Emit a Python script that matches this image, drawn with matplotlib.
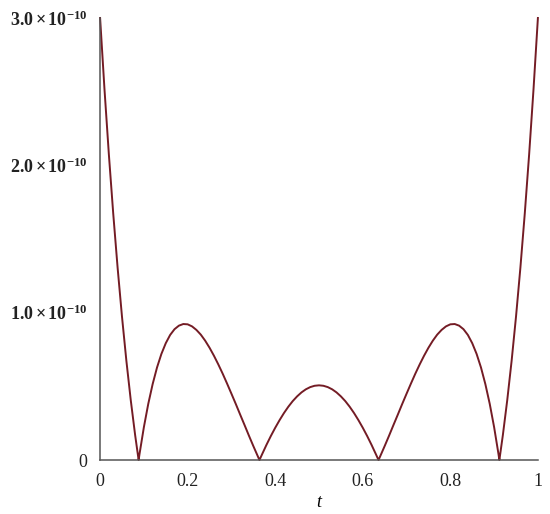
import matplotlib
matplotlib.use("Agg")
import matplotlib.pyplot as plt
import numpy as np

# Values (units of 1e-10)
t_left = [0.00, 0.01, 0.02, 0.03, 0.04, 0.05, 0.06, 0.07, 0.08, 0.088, 0.09,
          0.10, 0.11, 0.12, 0.13, 0.14, 0.15, 0.16, 0.17, 0.18, 0.19,
          0.20, 0.21, 0.22, 0.23, 0.24, 0.25, 0.26, 0.27, 0.28, 0.29,
          0.30, 0.31, 0.32, 0.33, 0.34, 0.35, 0.36, 0.364, 0.37, 0.38, 0.39,
          0.40, 0.41, 0.42, 0.43, 0.44, 0.45, 0.46, 0.47, 0.48, 0.49, 0.50]
err_left = [3.000, 2.517, 2.075, 1.672, 1.305, 0.973, 0.674, 0.407, 0.170, 0.000, 0.040,
            0.223, 0.381, 0.515, 0.628, 0.720, 0.793, 0.849, 0.888, 0.912, 0.923,
            0.921, 0.907, 0.883, 0.851, 0.810, 0.762, 0.708, 0.649, 0.586, 0.519,
            0.450, 0.380, 0.308, 0.237, 0.165, 0.095, 0.027, 0.000, 0.039, 0.103, 0.163,
            0.219, 0.271, 0.319, 0.362, 0.400, 0.432, 0.459, 0.480, 0.495, 0.504, 0.507]
t_right = [0.51, 0.52, 0.53, 0.54, 0.55, 0.56, 0.57, 0.58, 0.59, 0.60,
           0.61, 0.62, 0.63, 0.636, 0.64, 0.65, 0.66, 0.67, 0.68, 0.69, 0.70,
           0.71, 0.72, 0.73, 0.74, 0.75, 0.76, 0.77, 0.78, 0.79, 0.80,
           0.81, 0.82, 0.83, 0.84, 0.85, 0.86, 0.87, 0.88, 0.89, 0.90,
           0.91, 0.912, 0.92, 0.93, 0.94, 0.95, 0.96, 0.97, 0.98, 0.99, 1.00]
err_right = [0.504, 0.495, 0.480, 0.459, 0.432, 0.400, 0.362, 0.319, 0.271, 0.219,
             0.163, 0.103, 0.039, 0.000, 0.027, 0.095, 0.165, 0.237, 0.308, 0.380, 0.450,
             0.519, 0.586, 0.649, 0.708, 0.762, 0.810, 0.851, 0.883, 0.907, 0.921,
             0.923, 0.912, 0.888, 0.849, 0.793, 0.720, 0.628, 0.515, 0.381, 0.223,
             0.040, 0.000, 0.170, 0.407, 0.674, 0.973, 1.305, 1.672, 2.075, 2.517, 3.000]

x_ticks = [0, 0.2, 0.4, 0.6, 0.8, 1]
x_ticklabels = ["0", "0.2", "0.4", "0.6", "0.8", "1"]
y_ticks = [0, 1e-10, 2e-10, 3e-10]
y_ticklabels = ["0", r"$\mathbf{1.0\times10^{-10}}$", r"$\mathbf{2.0\times10^{-10}}$",
                r"$\mathbf{3.0\times10^{-10}}$"]

plt.rcParams["font.family"] = ["Liberation Serif", "DejaVu Serif"]
plt.rcParams["mathtext.fontset"] = "custom"
plt.rcParams["mathtext.rm"] = "Liberation Serif"
plt.rcParams["mathtext.it"] = "Liberation Serif:italic"
plt.rcParams["mathtext.bf"] = "Liberation Serif:bold"

t = np.array(t_left + t_right)
err = np.array(err_left + err_right) * 1e-10

fig = plt.figure(figsize=(5.5, 5.14), dpi=100)
ax = fig.add_axes([0.182, 0.105, 0.796, 0.860])
ax.plot(t, err, color="#741C25", lw=1.4, clip_on=False, solid_joinstyle="round")

ax.set_xlim(0, 1)
ax.set_ylim(0, 3e-10)
ax.set_xticks(x_ticks)
ax.set_xticklabels(x_ticklabels)
ax.set_yticks(y_ticks)
ax.set_yticklabels(y_ticklabels)
ax.tick_params(axis="both", length=0, labelsize=13, colors="#222222")
ax.tick_params(axis="y", pad=9)
ax.tick_params(axis="x", pad=9)
for s in ["top", "right"]:
    ax.spines[s].set_visible(False)
for s in ["left", "bottom"]:
    ax.spines[s].set_color("#555555")
    ax.spines[s].set_linewidth(1.1)
ax.set_xlabel("t", fontstyle="italic", fontsize=13, labelpad=3)

fig.savefig("out.png", dpi=100)
